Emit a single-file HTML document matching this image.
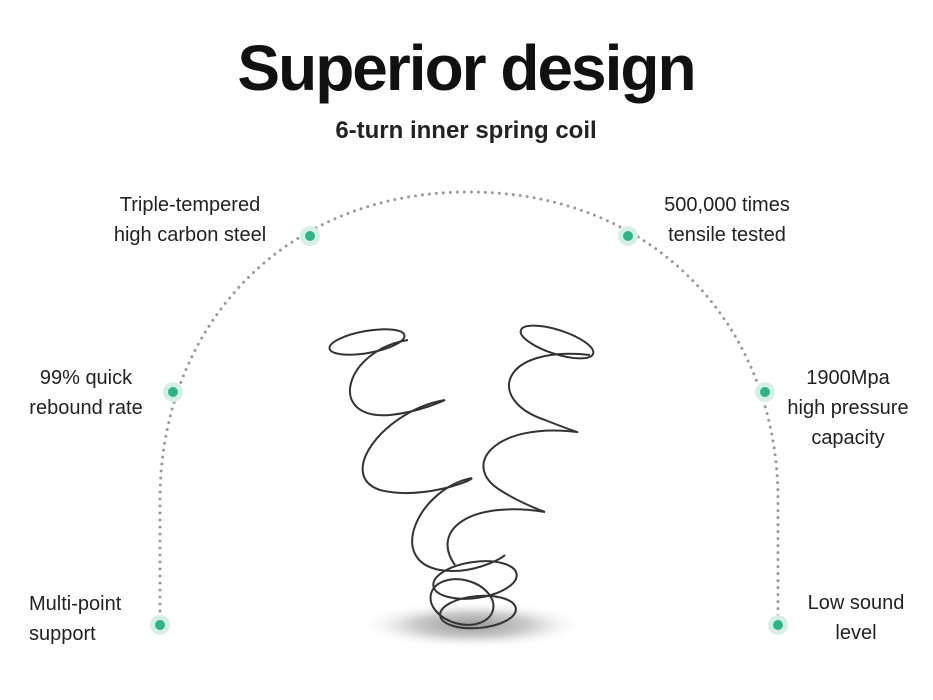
<!DOCTYPE html>
<html><head><meta charset="utf-8"><style>
body{margin:0;background:#fff;}
.w{position:relative;width:933px;height:700px;overflow:hidden;font-family:"Liberation Sans",sans-serif;color:#222;}
.t{position:absolute;font-size:20px;line-height:30px;white-space:nowrap;}
.c{text-align:center;transform:translateX(-50%);}
</style></head><body><div class="w">
<svg width="933" height="700" style="position:absolute;left:0;top:0">
<defs>
<radialGradient id="sh" cx="50%" cy="50%" r="50%"><stop offset="0" stop-color="#999"/><stop offset="0.5" stop-color="#ccc"/><stop offset="1" stop-color="#fff" stop-opacity="0"/></radialGradient>
</defs>
<text x="466" y="90" text-anchor="middle" font-family="Liberation Sans" font-weight="bold" font-size="64" fill="#111" letter-spacing="-2">Superior design</text>
<text x="466" y="138" text-anchor="middle" font-family="Liberation Sans" font-weight="bold" font-size="24" fill="#222">6-turn inner spring coil</text>
<path d="M160,625 L160,500 C160,330 280,192 469,192 C658,192 778,330 778,500 L778,625" fill="none" stroke="#999" stroke-width="3" stroke-linecap="round" stroke-dasharray="0 7"/>
<g>
<circle cx="310" cy="236" r="10" fill="#d6f0e8"/><circle cx="310" cy="236" r="5" fill="#2fb48a"/>
<circle cx="628" cy="236" r="10" fill="#d6f0e8"/><circle cx="628" cy="236" r="5" fill="#2fb48a"/>
<circle cx="173" cy="392" r="10" fill="#d6f0e8"/><circle cx="173" cy="392" r="5" fill="#2fb48a"/>
<circle cx="765" cy="392" r="10" fill="#d6f0e8"/><circle cx="765" cy="392" r="5" fill="#2fb48a"/>
<circle cx="160" cy="625" r="10" fill="#d6f0e8"/><circle cx="160" cy="625" r="5" fill="#2fb48a"/>
<circle cx="778" cy="625" r="10" fill="#d6f0e8"/><circle cx="778" cy="625" r="5" fill="#2fb48a"/>
</g>
<ellipse cx="472" cy="625" rx="115" ry="24" fill="url(#sh)"/>
<g fill="none" stroke="#333" stroke-width="2">
<ellipse cx="367" cy="342" rx="38" ry="11" transform="rotate(-10 367 342)"/>
<path d="M408,340 C345,350 325,420 390,415 C420,412 445,400 445,400"/>
<path d="M445,400 C385,410 335,475 380,490 C420,500 470,482 472,478"/>
<path d="M472,478 C420,488 385,560 440,570 C470,575 500,560 505,555"/>
<ellipse cx="557" cy="342" rx="38" ry="12" transform="rotate(18 557 342)"/>
<path d="M590,355 C500,345 485,400 545,420 C565,428 580,433 577,432"/>
<path d="M577,432 C495,422 460,465 500,490 C520,503 545,512 545,512"/>
<path d="M545,512 C470,500 430,530 455,565"/>
<ellipse cx="475" cy="580" rx="42" ry="18" transform="rotate(-8 475 580)"/>
<ellipse cx="462" cy="602" rx="32" ry="22" transform="rotate(15 462 602)"/>
<ellipse cx="478" cy="612" rx="38" ry="16" transform="rotate(-5 478 612)"/>
</g>
</svg>
<div class="t c" style="left:190px;top:190px">Triple-tempered<br>high carbon steel</div>
<div class="t c" style="left:727px;top:190px">500,000 times<br>tensile tested</div>
<div class="t c" style="left:86px;top:363px">99% quick<br>rebound rate</div>
<div class="t c" style="left:848px;top:363px">1900Mpa<br>high pressure<br>capacity</div>
<div class="t" style="left:29px;top:589px">Multi-point<br>support</div>
<div class="t c" style="left:856px;top:588px">Low sound<br>level</div>
</div></body></html>
